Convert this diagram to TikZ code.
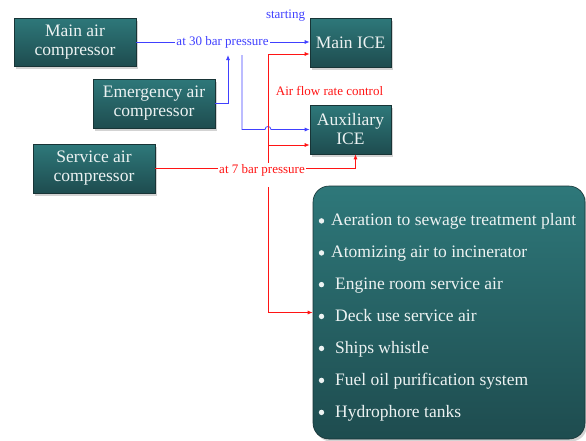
\documentclass[tikz,border=0pt]{standalone}
\usepackage{fontspec}
\setmainfont{Liberation Serif}
\usetikzlibrary{shadows,arrows.meta}
\definecolor{tealtop}{RGB}{46,120,122}
\definecolor{tealbot}{RGB}{30,76,79}
\definecolor{tealedge}{RGB}{24,52,54}
\definecolor{boxtext}{RGB}{236,242,242}
\definecolor{airblue}{RGB}{64,64,255}
\definecolor{airred}{RGB}{255,20,20}
\tikzset{
  tealbox/.style={draw=tealedge, line width=0.6pt, top color=tealtop, bottom color=tealbot,
    text=boxtext, align=center, inner sep=0pt,
    font=\fontsize{17.5}{19}\selectfont,
    drop shadow={opacity=0.35, shadow xshift=2pt, shadow yshift=-2.5pt}},
  flowlabel/.style={fill=white, inner sep=1pt, font=\fontsize{13}{15}\selectfont},
  tag/.style={inner sep=0pt, font=\fontsize{13}{15}\selectfont},
  pipe/.style={line width=0.8pt, -{Latex[length=5pt,width=4pt]}},
  item/.style={anchor=base west, inner sep=0pt, text=boxtext, font=\fontsize{17.5}{19}\selectfont},
  dot/.style={circle, inner sep=0pt, minimum size=5.4pt, fill=boxtext}
}
\begin{document}
\begin{tikzpicture}[x=1pt,y=-1pt]
\useasboundingbox (0,0) rectangle (586,440);
\clip (0,0) rectangle (586,440);

% compressors and engines
\node[tealbox, minimum width=122pt, minimum height=48pt] (mac) at (75,42) {Main air\\compressor};
\node[tealbox, minimum width=122pt, minimum height=49pt] (emc) at (154,103.5) {Emergency air\\compressor};
\node[tealbox, minimum width=122pt, minimum height=49pt] (sac) at (94,168.5) {Service air\\compressor};
\node[tealbox, minimum width=81pt, minimum height=49pt] (mice) at (350.5,42.5) {Main ICE};
\node[tealbox, minimum width=81pt, minimum height=49pt] (aice) at (350.5,129.5) {Auxiliary\\ICE};

% consumers of service air (y = text baseline)
\node[tealbox, rounded corners=16pt, minimum width=272pt, minimum height=253pt] (big) at (449,312.5) {};
\foreach \y/\x/\txt [count=\i] in {
  225.5/331/Aeration to sewage treatment plant,
  257.5/331/Atomizing air to incinerator,
  289.2/335/Engine room service air,
  321/335/Deck use service air,
  353/335/Ships whistle,
  385/335/Fuel oil purification system,
  417/335/Hydrophore tanks}{
  \node[dot] (b\i) at (321.5,\y-4.6) {};
  \node[item] (t\i) at (\x,\y) {\txt};
}

% 30 bar starting air (blue)
\coordinate (e30) at (228,55);
\coordinate (s30) at (242,55);
\draw[pipe, airblue] (mac.east) -- (mac.east -| mice.west);
\node[flowlabel, text=airblue] (p30) at (222.5,42.5) {at 30 bar pressure};
\draw[pipe, airblue] (emc.east) -| (e30);
\draw[pipe, airblue] (s30) -- (242,129.5) -- (265,129.5)
  .. controls (265,125.5) and (271,125.5) .. (271,129.5) -- (aice.west);
\node[tag, text=airblue] (start) at (285.5,16) {starting};

% 7 bar service air and air flow rate control (red)
\coordinate (r1) at (268,163);
\coordinate (rj) at (268,145);
\coordinate (r2) at (268,187);
\draw[pipe, airred] (r1) |- ([yshift=-11.5pt]mice.west);
\draw[pipe, airred] (rj) -- (rj -| aice.west);
\draw[pipe, airred] (sac.east) -| ([xshift=5pt]aice.south);
\node[flowlabel, text=airred] (p7) at (262,170) {at 7 bar pressure};
\draw[pipe, airred] (r2) |- (big.west);
\node[tag, text=airred] (afr) at (329.5,91) {Air flow rate control};
\end{tikzpicture}
\end{document}
